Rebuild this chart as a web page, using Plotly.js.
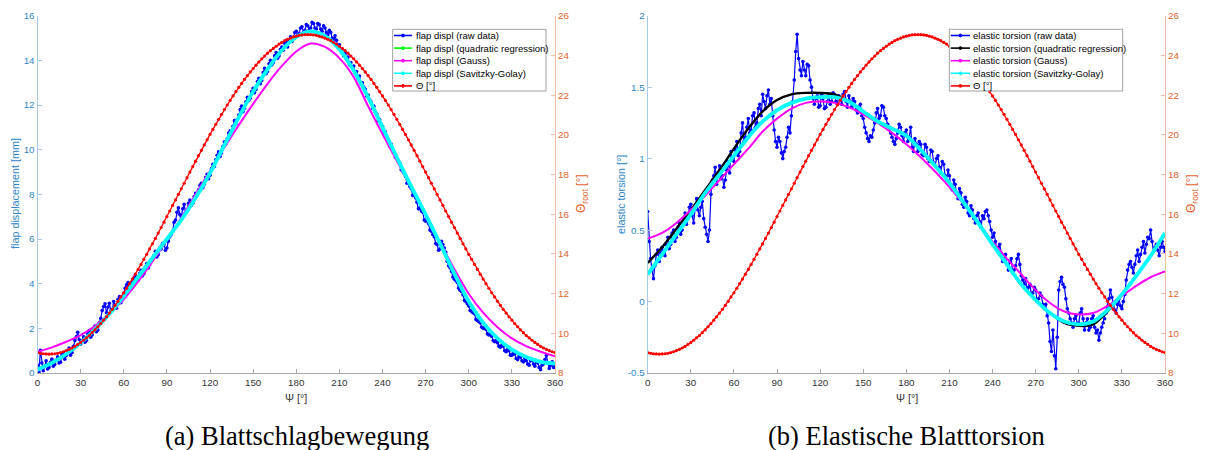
<!DOCTYPE html>
<html>
<head>
<meta charset="utf-8">
<script src="https://cdn.plot.ly/plotly-3.0.1.min.js"></script>
<style>
html,body{margin:0;padding:0;background:#fff;}
#chart{width:1205px;height:450px;}
</style>
</head>
<body>
<div id="chart"></div>
<script>
// ---------- DATA ----------
const psiRaw = Array.from({length: 361}, (_, i) => i);        // 0..360 step 1 (raw data)
const psiTheta = Array.from({length: 181}, (_, i) => i * 2);  // 0..360 step 2 (Θ)
const psiFit = Array.from({length: 37}, (_, i) => i * 10);    // 0..360 step 10 (fits)
const xTicks = [0,30,60,90,120,150,180,210,240,270,300,330,360];

// Root pitch angle Θ [°], step 2°
const theta = [9.03,8.99,8.97,8.96,8.95,8.96,8.97,8.99,9.03,9.07,9.13,9.19,9.26,9.34,9.44,9.54,9.65,9.77,9.89,10.03,
10.17,10.33,10.49,10.66,10.83,11.02,11.21,11.41,11.61,11.83,12.04,12.27,12.50,12.73,12.98,13.22,13.47,13.73,13.98,14.25,
14.51,14.78,15.05,15.33,15.60,15.88,16.16,16.44,16.72,17.00,17.28,17.56,17.84,18.12,18.40,18.67,18.95,19.22,19.49,19.75,
20.02,20.27,20.53,20.78,21.03,21.27,21.50,21.73,21.96,22.18,22.39,22.59,22.79,22.98,23.17,23.34,23.51,23.67,23.83,23.97,
24.11,24.24,24.35,24.46,24.57,24.66,24.74,24.81,24.87,24.93,24.97,25.01,25.03,25.05,25.05,25.05,25.03,25.01,24.97,24.93,
24.87,24.81,24.74,24.66,24.57,24.46,24.35,24.24,24.11,23.97,23.83,23.67,23.51,23.34,23.17,22.98,22.79,22.59,22.39,22.18,
21.96,21.73,21.50,21.27,21.03,20.78,20.53,20.27,20.02,19.75,19.49,19.22,18.95,18.67,18.40,18.12,17.84,17.56,17.28,17.00,
16.72,16.44,16.16,15.88,15.60,15.33,15.05,14.78,14.51,14.25,13.98,13.73,13.47,13.22,12.98,12.73,12.50,12.27,12.04,11.83,
11.61,11.41,11.21,11.02,10.83,10.66,10.49,10.33,10.17,10.03,9.89,9.77,9.65,9.54,9.44,9.34,9.26,9.19,9.13,9.07,9.03];

// Flap displacement [mm], raw data step 1°
const flapRaw = [
0.35,0.05,1.02,0.45,0.10,0.30,0.55,0.18,0.25,0.48,
0.62,0.30,0.38,0.58,0.72,0.45,0.48,0.82,0.90,0.62,
0.78,0.95,1.12,0.80,0.92,1.20,1.45,1.62,1.82,1.50,
1.30,1.45,1.62,1.38,1.45,1.75,1.90,1.60,1.70,1.95,
2.10,1.85,1.92,2.25,2.45,2.80,2.98,3.10,2.70,2.95,
3.12,2.78,2.85,3.20,3.05,2.90,3.30,3.42,3.15,3.40,
3.55,3.80,3.95,4.05,3.70,3.85,4.05,4.25,4.35,4.10,
4.15,4.45,4.60,4.35,4.45,4.75,4.90,4.70,4.85,5.05,
5.10,5.25,5.45,5.20,5.30,5.60,5.55,5.80,5.75,5.50,
5.60,5.90,6.10,6.20,6.35,6.75,6.85,7.20,7.40,7.10,
7.00,7.35,7.55,7.20,7.30,7.60,7.75,7.50,7.60,7.90,
8.05,7.95,8.20,8.40,8.50,8.30,8.45,8.75,8.90,8.70,
8.85,9.15,9.35,9.25,9.55,9.75,9.90,9.70,9.85,10.15,
10.35,10.25,10.50,10.75,10.85,10.70,11.05,11.30,11.15,11.35,
11.55,11.80,11.95,11.70,11.85,12.15,12.35,12.20,12.30,12.60,
12.75,12.55,12.70,13.05,13.20,12.95,13.10,13.45,13.65,13.40,
13.50,13.85,14.00,13.80,13.90,14.20,14.35,14.10,14.20,14.50,
14.60,14.45,14.75,14.90,14.60,14.85,15.05,14.85,15.00,15.25,
15.30,15.10,15.20,15.45,15.50,15.25,15.35,15.60,15.55,15.35,
15.45,15.70,15.65,15.45,15.40,15.65,15.60,15.40,15.30,15.55,
15.45,15.25,15.15,15.35,15.25,15.00,14.95,15.10,14.90,14.65,
14.70,14.45,14.50,14.20,14.30,14.05,14.15,13.80,13.90,13.70,
13.75,13.45,13.50,13.20,13.30,12.95,13.00,12.80,12.70,12.40,
12.45,12.25,12.15,11.85,11.95,11.70,11.60,11.30,11.35,11.15,
11.05,10.75,10.80,10.55,10.45,10.15,10.25,9.95,9.90,9.65,
9.60,9.45,9.40,9.10,9.05,8.95,8.80,8.50,8.55,8.35,
8.25,7.95,8.00,7.85,7.65,7.35,7.40,7.25,7.20,6.85,
6.80,6.95,6.70,6.40,6.35,6.20,6.10,5.80,5.75,5.50,
5.55,5.90,5.75,5.60,5.40,5.00,4.80,4.70,4.55,4.30,
4.20,4.15,4.05,3.80,3.70,3.65,3.50,3.25,3.20,3.10,
3.00,2.80,2.75,2.70,2.65,2.40,2.35,2.30,2.25,2.05,
2.00,2.05,1.95,1.75,1.70,1.75,1.65,1.45,1.40,1.45,
1.35,1.20,1.15,1.25,1.20,1.00,0.95,1.05,1.00,0.80,
0.80,0.90,0.85,0.65,0.60,0.75,0.70,0.55,0.50,0.65,
0.55,0.40,0.35,0.55,0.60,0.40,0.30,0.50,0.45,0.25,
0.15,0.35,0.40,0.60,0.80,0.45,0.20,0.35,0.50,0.25,
0.30];
const flapQuad = [0.18,0.47,0.86,1.36,1.96,2.66,3.46,4.31,5.16,6.02,6.88,7.88,8.97,10.2,11.44,12.58,13.58,14.43,15.03,15.28,
15.1,14.5,13.56,12.36,11.0,9.65,8.35,7.1,5.8,4.45,3.22,2.27,1.57,1.07,0.74,0.52,0.44];
const flapGauss = [0.95,1.15,1.40,1.70,2.10,2.65,3.30,4.10,5.00,5.95,6.95,8.00,9.05,10.10,11.10,12.05,12.95,13.75,14.40,14.75,
14.60,14.10,13.25,11.95,10.70,9.50,8.30,7.05,5.85,4.65,3.55,2.70,2.05,1.55,1.20,0.95,0.75];
const flapSG = [0.15,0.45,0.85,1.35,1.95,2.65,3.45,4.30,5.15,6.00,6.85,7.85,8.95,10.20,11.45,12.60,13.60,14.45,15.05,15.30,
15.10,14.50,13.55,12.35,11.00,9.65,8.35,7.10,5.80,4.45,3.20,2.25,1.55,1.05,0.72,0.50,0.42];

// Elastic torsion [°], raw data step 1°
const torsRaw = [
0.63,0.42,0.30,0.22,0.16,0.25,0.33,0.36,0.28,0.34,
0.38,0.35,0.32,0.40,0.45,0.37,0.40,0.48,0.50,0.42,
0.45,0.52,0.55,0.47,0.50,0.58,0.62,0.54,0.58,0.66,
0.68,0.60,0.55,0.65,0.72,0.64,0.60,0.66,0.70,0.58,
0.52,0.47,0.42,0.50,0.75,0.85,0.88,0.94,0.82,0.90,
0.95,0.86,0.88,0.80,0.85,0.92,0.98,0.90,1.05,1.00,
0.98,1.06,1.12,1.02,1.05,1.18,1.25,1.12,1.15,1.22,
1.28,1.18,1.20,1.30,1.32,1.22,1.25,1.35,1.38,1.30,
1.45,1.40,1.35,1.44,1.48,1.38,1.42,1.30,1.20,1.12,
1.08,1.15,1.12,1.04,1.00,1.05,1.08,1.15,1.22,1.18,
1.30,1.40,1.55,1.75,1.87,1.70,1.62,1.58,1.68,1.62,
1.58,1.66,1.65,1.55,1.50,1.42,1.38,1.42,1.44,1.36,
1.37,1.45,1.42,1.35,1.36,1.40,1.44,1.38,1.40,1.46,
1.45,1.40,1.38,1.44,1.42,1.38,1.45,1.47,1.40,1.36,
1.44,1.40,1.36,1.42,1.40,1.34,1.32,1.36,1.38,1.30,
1.28,1.22,1.18,1.14,1.12,1.16,1.15,1.20,1.25,1.32,
1.35,1.28,1.30,1.37,1.36,1.30,1.28,1.24,1.22,1.18,
1.15,1.12,1.10,1.14,1.18,1.24,1.22,1.16,1.12,1.18,
1.20,1.12,1.15,1.22,1.08,1.05,1.14,1.10,1.05,1.12,
1.10,1.03,1.02,1.10,1.08,1.00,0.98,1.06,1.05,0.97,
0.95,1.00,1.02,0.94,0.90,0.98,0.96,0.88,0.85,0.92,
0.88,0.80,0.78,0.85,0.82,0.75,0.72,0.79,0.76,0.68,
0.66,0.73,0.70,0.62,0.60,0.67,0.64,0.58,0.55,0.60,
0.62,0.56,0.52,0.60,0.58,0.63,0.64,0.60,0.56,0.50,
0.45,0.48,0.42,0.36,0.38,0.40,0.34,0.28,0.30,0.33,
0.26,0.22,0.28,0.30,0.20,0.22,0.25,0.30,0.33,0.26,
0.18,0.15,0.12,0.16,0.08,0.10,0.12,0.05,0.06,0.10,
0.08,0.00,0.02,0.06,0.04,-0.02,-0.05,-0.02,-0.10,-0.15,
-0.28,-0.35,-0.20,-0.38,-0.47,-0.25,0.08,0.14,0.17,0.12,
0.10,0.02,-0.05,-0.08,-0.12,-0.15,-0.18,-0.12,-0.10,-0.16,
-0.15,-0.08,-0.05,-0.12,-0.20,-0.15,-0.12,-0.20,-0.18,-0.12,
-0.10,-0.18,-0.22,-0.20,-0.27,-0.22,-0.18,-0.15,-0.12,-0.08,
-0.04,0.02,0.08,0.03,-0.02,-0.06,-0.08,-0.02,0.02,-0.03,
-0.05,0.00,0.05,0.15,0.22,0.26,0.28,0.24,0.20,0.26,
0.32,0.36,0.28,0.33,0.38,0.42,0.34,0.40,0.45,0.44,
0.50,0.42,0.35,0.38,0.40,0.36,0.32,0.38,0.42,0.38,
0.35];
const torsQuad = [0.27,0.38,0.51,0.64,0.78,0.92,1.07,1.21,1.33,1.41,1.45,1.46,1.46,1.45,1.40,1.33,1.26,1.21,1.16,1.06,
0.95,0.83,0.69,0.55,0.40,0.26,0.12,0.01,-0.08,-0.15,-0.17,-0.16,-0.07,0.05,0.18,0.32,0.47];
const torsGauss = [0.44,0.48,0.55,0.64,0.74,0.85,0.96,1.07,1.19,1.28,1.35,1.39,1.40,1.39,1.36,1.31,1.25,1.18,1.10,1.01,
0.91,0.80,0.68,0.55,0.42,0.30,0.19,0.08,-0.01,-0.07,-0.09,-0.08,-0.03,0.04,0.11,0.17,0.21];
const torsSG = [0.19,0.33,0.47,0.61,0.76,0.89,1.02,1.15,1.26,1.34,1.39,1.42,1.43,1.43,1.40,1.33,1.26,1.21,1.16,1.06,
0.95,0.83,0.69,0.55,0.40,0.26,0.12,0.01,-0.08,-0.14,-0.16,-0.14,-0.06,0.05,0.18,0.32,0.48];

const legendLeft = ['flap displ (raw data)','flap displ (quadratic regression)','flap displ (Gauss)','flap displ (Savitzky-Golay)','\u0398 [\u00b0]'];
const legendRight = ['elastic torsion (raw data)','elastic torsion (quadratic regression)','elastic torsion (Gauss)','elastic torsion (Savitzky-Golay)','\u0398 [\u00b0]'];
const colorsLeft = ['#0000ff','#00ff00','#ff00ff','#00ffff','#ff0000'];
const colorsRight = ['#0000ff','#000000','#ff00ff','#00ffff','#ff0000'];
const captions = ['(a) Blattschlagbewegung','(b) Elastische Blatttorsion'];
const yTitles = ['flap displacement [mm]','elastic torsion [\u00b0]'];
const thetaTitle = '\u0398<sub>root</sub> [\u00b0]';
const xTitle = '\u03a8 [\u00b0]';

// ---------- STYLE ----------
const W = 1205, H = 450;
const px = x => x / W, py = y => 1 - y / H;
const BLUE_AX = '#2f86c6', BLUE_LINE = '#a9c9e6';
const ORANGE_AX = '#e2622c', ORANGE_LINE = '#f1bfa6';
const GRAY_LINE = '#a8a8a8', GRAY_TXT = '#333333';
const SANS = 'Liberation Sans, Arial, sans-serif';
const SERIF = 'Liberation Serif, Times New Roman, serif';
const tickFont = (c) => ({family: SANS, size: 9.8, color: c});

const yDom = [py(373), py(15.7)];
const x1Dom = [px(37.5), px(555)];
const x2Dom = [px(647.7), px(1165)];

function rawTrace(x, y, xa, ya) {
  return {x, y, xaxis: xa, yaxis: ya, type: 'scatter', mode: 'lines+markers',
    line: {color: '#0000ff', width: 1.2}, marker: {color: '#0000ff', size: 3.6}, showlegend: false, hoverinfo: 'skip'};
}
function fitTrace(x, y, xa, ya, color, width) {
  return {x, y, xaxis: xa, yaxis: ya, type: 'scatter', mode: 'lines',
    line: {color, width, shape: 'spline', smoothing: 0.8}, showlegend: false, hoverinfo: 'skip'};
}
function thetaTrace(xa, ya) {
  return {x: psiTheta, y: theta, xaxis: xa, yaxis: ya, type: 'scatter', mode: 'lines+markers',
    line: {color: '#ff0000', width: 1.3}, marker: {color: '#ff0000', size: 3.2}, showlegend: false, hoverinfo: 'skip'};
}

const traces = [
  rawTrace(psiRaw, flapRaw, 'x', 'y'),
  fitTrace(psiFit, flapQuad, 'x', 'y', '#00ff00', 2),
  fitTrace(psiFit, flapGauss, 'x', 'y', '#ff00ff', 2),
  fitTrace(psiFit, flapSG, 'x', 'y', '#00ffff', 3.8),
  thetaTrace('x', 'y2'),
  rawTrace(psiRaw, torsRaw, 'x2', 'y3'),
  fitTrace(psiFit, torsQuad, 'x2', 'y3', '#000000', 2.4),
  fitTrace(psiFit, torsGauss, 'x2', 'y3', '#ff00ff', 2),
  fitTrace(psiFit, torsSG, 'x2', 'y3', '#00ffff', 3.8),
  thetaTrace('x2', 'y4')
];

function xAxis(dom, anchor) {
  return {domain: dom, anchor, range: [0, 360], tickvals: xTicks, ticktext: xTicks.map(String),
    ticks: 'inside', ticklen: 4, tickcolor: GRAY_LINE, showline: true, linecolor: GRAY_LINE, linewidth: 1,
    showgrid: false, zeroline: false, tickfont: tickFont(GRAY_TXT)};
}
function yLeft(dom, anchor, range, vals, texts) {
  return {domain: dom, anchor, range, tickvals: vals, ticktext: texts,
    ticks: 'inside', ticklen: 4, tickcolor: BLUE_LINE, showline: true, linecolor: BLUE_LINE, linewidth: 1,
    showgrid: false, zeroline: false, tickfont: tickFont(BLUE_AX)};
}
function yRight(overlay, anchor) {
  const vals = [8,10,12,14,16,18,20,22,24,26];
  return {overlaying: overlay, anchor, side: 'right', range: [8, 26], tickvals: vals, ticktext: vals.map(String),
    ticks: 'inside', ticklen: 4, tickcolor: ORANGE_LINE, showline: true, linecolor: ORANGE_LINE, linewidth: 1,
    showgrid: false, zeroline: false, tickfont: tickFont(ORANGE_AX)};
}

const shapes = [], annotations = [];
function buildLegend(labels, colors, x0, x1, y0, y1, sx0, sx1, tx) {
  shapes.push({type: 'rect', xref: 'paper', yref: 'paper', x0: px(x0), x1: px(x1), y0: py(y0), y1: py(y1),
    line: {color: '#a0a0a0', width: 1}, fillcolor: '#ffffff', layer: 'above'});
  labels.forEach((lab, i) => {
    const yc = y0 + 6.2 + i * 12.6;
    shapes.push({type: 'line', xref: 'paper', yref: 'paper', x0: px(sx0), x1: px(sx1), y0: py(yc), y1: py(yc),
      line: {color: colors[i], width: 1.6}, layer: 'above'});
    const mx = (sx0 + sx1) / 2;
    shapes.push({type: 'circle', xref: 'paper', yref: 'paper', x0: px(mx - 1.4), x1: px(mx + 1.4), y0: py(yc - 1.4), y1: py(yc + 1.4),
      line: {color: colors[i], width: 1}, fillcolor: colors[i], layer: 'above'});
    annotations.push({xref: 'paper', yref: 'paper', x: px(tx), y: py(yc), xanchor: 'left', yanchor: 'middle',
      text: lab, showarrow: false, font: {family: SANS, size: 9.5, color: '#000'}});
  });
}
buildLegend(legendLeft, colorsLeft, 392.7, 546, 29.3, 91, 394, 412, 413.5);
buildLegend(legendRight, colorsRight, 949.3, 1122.7, 29.3, 91, 950.7, 970, 971);

function addText(text, x, y, font, angle) {
  annotations.push({xref: 'paper', yref: 'paper', x: px(x), y: py(y), xanchor: 'center', yanchor: 'middle',
    text, showarrow: false, textangle: angle || 0, font});
}
// axis titles
addText(yTitles[0], 15, 194, {family: SANS, size: 10.8, color: BLUE_AX}, -90);
addText(yTitles[1], 621, 194, {family: SANS, size: 10.8, color: BLUE_AX}, -90);
addText(thetaTitle, 582, 194, {family: SANS, size: 12, color: ORANGE_AX}, -90);
addText(thetaTitle, 1192, 194, {family: SANS, size: 12, color: ORANGE_AX}, -90);
addText(xTitle, 296, 398, {family: SANS, size: 10.8, color: GRAY_TXT}, 0);
addText(xTitle, 906.5, 398, {family: SANS, size: 10.8, color: GRAY_TXT}, 0);
// captions
addText(captions[0], 297, 436, {family: SERIF, size: 26.5, color: '#000'}, 0);
addText(captions[1], 906.5, 436, {family: SERIF, size: 26.5, color: '#000'}, 0);

const layout = {
  width: W, height: H, margin: {l: 0, r: 0, t: 0, b: 0},
  paper_bgcolor: '#ffffff', plot_bgcolor: '#ffffff', showlegend: false,
  xaxis: xAxis(x1Dom, 'y'),
  yaxis: yLeft(yDom, 'x', [0, 16], [0,2,4,6,8,10,12,14,16], ['0','2','4','6','8','10','12','14','16']),
  yaxis2: yRight('y', 'x'),
  xaxis2: xAxis(x2Dom, 'y3'),
  yaxis3: yLeft(yDom, 'x2', [-0.5, 2], [-0.5,0,0.5,1,1.5,2], ['-0.5','0','0.5','1','1.5','2']),
  yaxis4: yRight('y3', 'x2'),
  shapes, annotations
};

Plotly.newPlot('chart', traces, layout, {displayModeBar: false, staticPlot: true});
</script>
</body>
</html>
